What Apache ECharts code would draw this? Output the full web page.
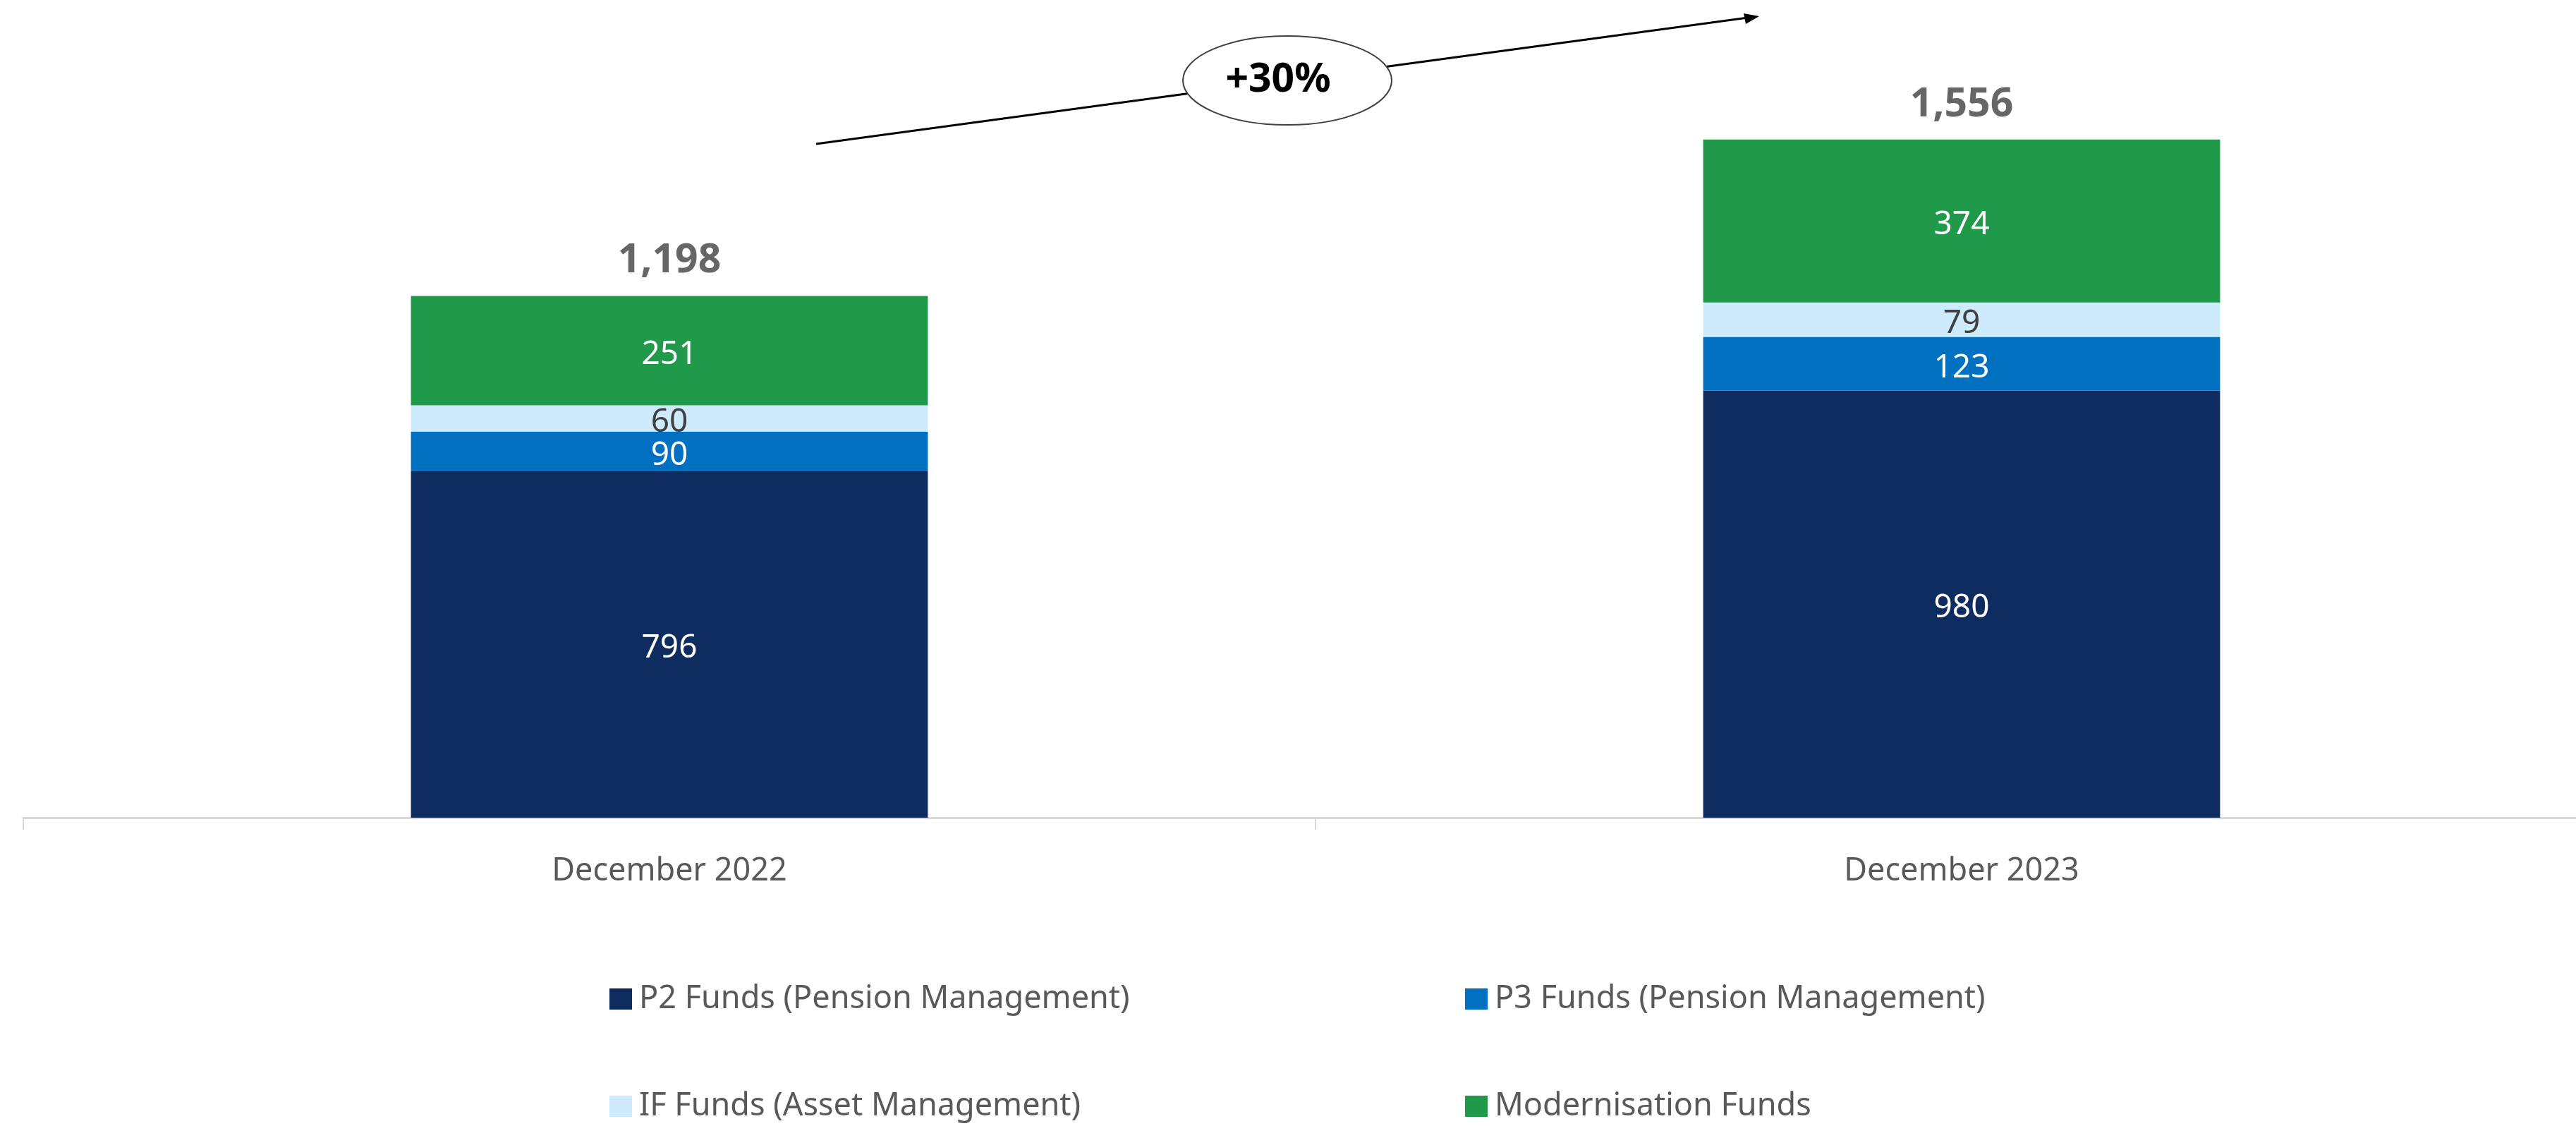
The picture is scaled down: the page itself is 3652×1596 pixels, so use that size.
<!DOCTYPE html>
<html>
<head>
<meta charset="utf-8">
<script src="https://cdn.jsdelivr.net/npm/echarts@6/dist/echarts.min.js"></script>
<style>
html,body{margin:0;padding:0;background:#fff;overflow:hidden;}
#chart{width:3700px;height:1596px;}
</style>
</head>
<body>
<div id="chart"></div>
<script>
const categories = ['December 2022', 'December 2023'];
const p2Funds = [796, 980];
const p3Funds = [90, 123];
const ifFunds = [60, 79];
const modFunds = [251, 374];
const totals = [1198, 1556];
const seriesNames = ['P2 Funds (Pension Management)', 'P3 Funds (Pension Management)', 'IF Funds (Asset Management)', 'Modernisation Funds'];
const growthLabel = '+30%';

const FONT = '"Noto Sans", sans-serif';
const colors = ['#0E2C60', '#0070C0', '#CDEBFC', '#209A4A'];
const labelColors = ['#ffffff', '#ffffff', '#404040', '#ffffff'];
const values = [p2Funds, p3Funds, ifFunds, modFunds];

const chart = echarts.init(document.getElementById('chart'));

const barSeries = values.map((v, i) => ({
  name: seriesNames[i],
  type: 'bar',
  stack: 'total',
  data: v,
  barWidth: '40%',
  itemStyle: { color: colors[i] },
  label: {
    show: true,
    position: 'inside',
    offset: [0, 6],
    color: labelColors[i],
    fontFamily: FONT,
    fontSize: 46,
    formatter: p => p.value.toLocaleString('en-US')
  },
  emphasis: { disabled: true }
}));

const option = {
  animation: false,
  backgroundColor: '#ffffff',
  grid: { left: 33, right: 3, top: 47, bottom: 437, containLabel: false, outerBoundsMode: 'none' },
  xAxis: {
    type: 'category',
    data: categories,
    axisLine: { show: true, lineStyle: { color: '#d9d9d9', width: 3 } },
    axisTick: { show: true, length: 17, lineStyle: { color: '#d9d9d9', width: 2 } },
    axisLabel: { color: '#595959', fontFamily: FONT, fontSize: 45, margin: 49, lineHeight: 54 }
  },
  yAxis: {
    type: 'value', min: 0, max: 1800, show: false,
    splitLine: { show: false }
  },
  legend: [
    {
      data: [seriesNames[0], seriesNames[2]],
      orient: 'vertical',
      left: 864, top: 1389, padding: 0,
      itemWidth: 32, itemHeight: 30, itemGap: 98,
      icon: 'rect',
      textStyle: { color: '#595959', fontFamily: FONT, fontSize: 45, lineHeight: 54, padding: [0, 0, 0, 5] }
    },
    {
      data: [seriesNames[1], seriesNames[3]],
      orient: 'vertical',
      left: 2077, top: 1389, padding: 0,
      itemWidth: 32, itemHeight: 30, itemGap: 98,
      icon: 'rect',
      textStyle: { color: '#595959', fontFamily: FONT, fontSize: 45, lineHeight: 54, padding: [0, 0, 0, 5] }
    }
  ],
  series: barSeries.concat([{
    name: 'Total',
    type: 'scatter',
    data: totals,
    symbolSize: 1,
    itemStyle: { color: 'rgba(0,0,0,0)' },
    silent: true,
    label: {
      show: true,
      position: 'inside',
      offset: [0, -49],
      color: '#404040',
      fontFamily: FONT,
      fontWeight: 'bold',
      fontSize: 57,
      formatter: p => p.value.toLocaleString('en-US')
    }
  }]),
  graphic: [
    {
      type: 'line',
      shape: { x1: 1157, y1: 204, x2: 2478, y2: 25 },
      style: { stroke: '#000000', lineWidth: 3 },
      z: 10
    },
    {
      type: 'polygon',
      shape: { points: [[2494, 23], [2472, 19], [2475, 34]] },
      style: { fill: '#000000' },
      z: 10
    },
    {
      type: 'ellipse',
      shape: { cx: 1825, cy: 114, rx: 148, ry: 63 },
      style: { fill: '#ffffff', stroke: '#404040', lineWidth: 2 },
      z: 11
    },
    {
      type: 'text',
      x: 1812, y: 114,
      style: {
        text: growthLabel,
        fill: '#000000',
        font: 'bold 57px "Noto Sans", sans-serif',
        textAlign: 'center',
        textVerticalAlign: 'middle'
      },
      z: 12
    }
  ]
};
chart.setOption(option);
</script>
</body>
</html>
